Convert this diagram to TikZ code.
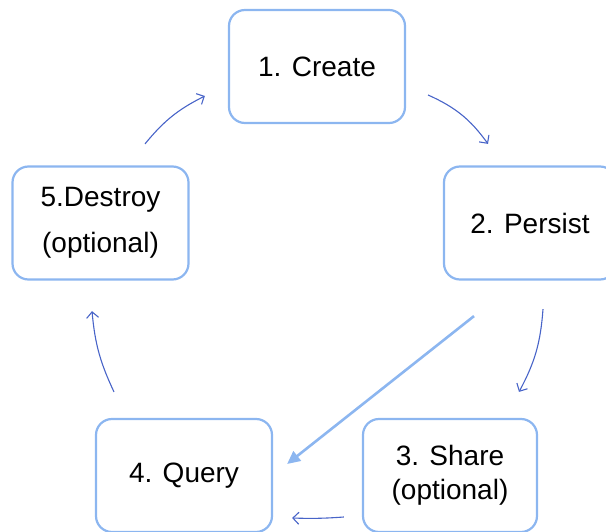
\documentclass[tikz,border=0pt]{standalone}
\usepackage{fontspec}
\setmainfont{Liberation Sans}
\usetikzlibrary{arrows.meta, positioning, calc}
\definecolor{boxblue}{RGB}{140,182,240}
\definecolor{arrowblue}{RGB}{72,100,200}

\begin{document}
\begin{tikzpicture}[x=1pt, y=1pt,
    stage/.style={draw=boxblue, line width=2.2pt, rectangle, rounded corners=16pt, minimum width=176pt, minimum height=113pt, inner sep=0pt, align=center, font=\fontsize{28}{34}\selectfont},
    cyclearrow/.style={-{Straight Barb[length=6pt, width=12pt]}, draw=arrowblue, line width=1.1pt},
    shortcut/.style={-{Triangle[length=13pt, width=12pt]}, draw=boxblue, line width=2.6pt}]
    \useasboundingbox (0,0) rectangle (606,531);

    \node (create) [stage] at (317,464.5) {1. Create};
    \node (persist) [stage, minimum width=172pt] at (530,308) {2. Persist};
    \node (share) [stage, minimum width=174pt, font=\fontsize{28}{34}\selectfont] at (450,55.5) {3. Share\\(optional)};
    \node (query) [stage] at (184,55.5) {4. Query};
    \node (destroy) [stage, font=\fontsize{28}{46}\selectfont] at (100.5,308) {5.Destroy\\(optional)};

    \coordinate (c12a) at ($(create.east)+(22,-28.5)$);
    \coordinate (c12b) at ($(persist.north)+(-42,21.5)$);
    \coordinate (c23a) at ($(persist.south)+(13,-28.5)$);
    \coordinate (c23b) at ($(share.north)+(69,26)$);
    \coordinate (c34a) at ($(share.west)+(-18,-41.5)$);
    \coordinate (c34b) at ($(query.east)+(19,-42.5)$);
    \coordinate (c45a) at ($(query.north)+(-70,26)$);
    \coordinate (c45b) at ($(destroy.south)+(-8.5,-30.5)$);
    \coordinate (c51a) at ($(destroy.north)+(44.5,21.5)$);
    \coordinate (c51b) at ($(create.west)+(-23,-29.5)$);
    \coordinate (c24a) at ($(persist.south)+(-56,-35.5)$);
    \coordinate (c24b) at ($(query.east)+(14,11.5)$);

    \draw[cyclearrow] (c12a) to[bend left=15] (c12b);
    \draw[cyclearrow] (c23a) to[bend left=12] (c23b);
    \draw[cyclearrow] (c34a) to[bend left=3] (c34b);
    \draw[cyclearrow] (c45a) to[bend left=10] (c45b);
    \draw[cyclearrow] (c51a) to[bend left=12] (c51b);
    \draw[shortcut] (c24a) -- (c24b);
\end{tikzpicture}
\end{document}
